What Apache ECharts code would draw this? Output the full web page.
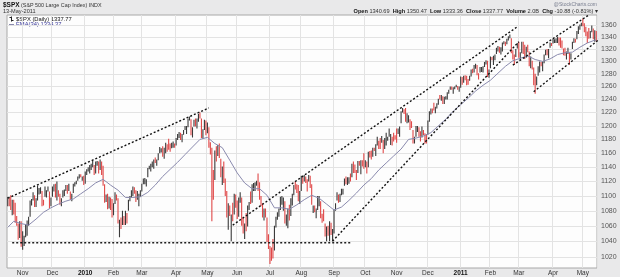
<!DOCTYPE html>
<html>
<head>
<meta charset="utf-8">
<script src="https://cdn.jsdelivr.net/npm/echarts/dist/echarts.min.js"></script>
<style>
html,body{margin:0;padding:0;background:#e9e9ea;}
#c{width:620px;height:277px;}
</style>
</head>
<body>
<div id="c"></div>
<script>
// ---- trading days (categories) ----
const tradingDays = [
 ['2009-10', [19,20,21,22,23,26,27,28,29,30]],
 ['2009-11', [2,3,4,5,6,9,10,11,12,13,16,17,18,19,20,23,24,25,27,30]],
 ['2009-12', [1,2,3,4,7,8,9,10,11,14,15,16,17,18,21,22,23,24,28,29,30,31]],
 ['2010-01', [4,5,6,7,8,11,12,13,14,15,19,20,21,22,25,26,27,28,29]],
 ['2010-02', [1,2,3,4,5,8,9,10,11,12,16,17,18,19,22,23,24,25,26]],
 ['2010-03', [1,2,3,4,5,8,9,10,11,12,15,16,17,18,19,22,23,24,25,26,29,30,31]],
 ['2010-04', [1,5,6,7,8,9,12,13,14,15,16,19,20,21,22,23,26,27,28,29,30]],
 ['2010-05', [3,4,5,6,7,10,11,12,13,14,17,18,19,20,21,24,25,26,27,28]],
 ['2010-06', [1,2,3,4,7,8,9,10,11,14,15,16,17,18,21,22,23,24,25,28,29,30]],
 ['2010-07', [1,2,6,7,8,9,12,13,14,15,16,19,20,21,22,23,26,27,28,29,30]],
 ['2010-08', [2,3,4,5,6,9,10,11,12,13,16,17,18,19,20,23,24,25,26,27,30,31]],
 ['2010-09', [1,2,3,7,8,9,10,13,14,15,16,17,20,21,22,23,24,27,28,29,30]],
 ['2010-10', [1,4,5,6,7,8,11,12,13,14,15,18,19,20,21,22,25,26,27,28,29]],
 ['2010-11', [1,2,3,4,5,8,9,10,11,12,15,16,17,18,19,22,23,24,26,29,30]],
 ['2010-12', [1,2,3,6,7,8,9,10,13,14,15,16,17,20,21,22,23,27,28,29,30,31]],
 ['2011-01', [3,4,5,6,7,10,11,12,13,14,18,19,20,21,24,25,26,27,28,31]],
 ['2011-02', [1,2,3,4,7,8,9,10,11,14,15,16,17,18,22,23,24,25,28]],
 ['2011-03', [1,2,3,4,7,8,9,10,11,14,15,16,17,18,21,22,23,24,25,28,29,30,31]],
 ['2011-04', [1,4,5,6,7,8,11,12,13,14,15,18,19,20,21,25,26,27,28,29]],
 ['2011-05', [2,3,4,5,6,9,10,11,12,13]]
];
// month tick labels (first trading day of each month after the first)
const monthLabels = ['Nov','Dec','2010','Feb','Mar','Apr','May','Jun','Jul','Aug','Sep','Oct','Nov','Dec','2011','Feb','Mar','Apr','May'];
// price tick labels
const yTicks = [1020,1040,1060,1080,1100,1120,1140,1160,1180,1200,1220,1240,1260,1280,1300,1320,1340,1360];

// ---- daily bars [open, high, low, close] ----
const ohlc2009 = [
[1088,1099,1086,1098],[1098,1098,1086,1091],[1091,1101,1081,1081],[1080,1095,1074,1093],[1093,1095,1075,1080],
[1080,1091,1064,1067],[1067,1073,1060,1063],[1061,1063,1042,1043],[1044,1066,1044,1066],[1065,1066,1033,1036],
[1036,1053,1029,1043],[1040,1047,1034,1045],[1047,1062,1045,1047],[1047,1067,1047,1067],[1064,1072,1060,1069],
[1072,1094,1072,1093],[1092,1096,1087,1093],[1094,1105,1094,1099],[1098,1101,1085,1087],[1088,1097,1085,1093],
[1094,1114,1094,1109],[1108,1111,1102,1110],[1110,1112,1103,1110],[1106,1107,1086,1095],[1094,1095,1087,1091],
[1099,1113,1099,1106],[1106,1108,1098,1106],[1107,1113,1106,1111],[1105,1106,1083,1091],[1092,1098,1086,1096],
[1099,1113,1099,1109],[1109,1116,1106,1109],[1111,1117,1098,1100],[1100,1120,1094,1106],[1106,1108,1099,1103],
[1103,1103,1088,1092],[1092,1097,1086,1096],[1098,1108,1098,1102],[1104,1109,1100,1106],[1108,1115,1107,1114],
[1114,1115,1103,1108],[1109,1117,1107,1109],[1106,1106,1095,1096],[1097,1103,1093,1102],[1104,1117,1104,1114],
[1115,1119,1113,1118],[1118,1121,1116,1121],[1121,1127,1121,1126],[1127,1130,1124,1128],[1128,1130,1126,1126],
[1125,1127,1121,1126],[1126,1128,1115,1115]
];
const ohlc2010 = [
[1117,1134,1117,1133],[1133,1137,1129,1137],[1136,1140,1134,1137],[1136,1143,1131,1142],[1141,1145,1136,1145],
[1146,1150,1140,1147],[1143,1143,1129,1136],[1137,1148,1131,1146],[1146,1149,1142,1148],[1148,1148,1131,1136],
[1136,1151,1136,1150],[1148,1148,1129,1138],[1138,1142,1114,1116],[1116,1116,1091,1092],[1092,1102,1092,1097],
[1095,1103,1082,1092],[1091,1099,1083,1098],[1097,1098,1081,1085],[1087,1096,1071,1074],
[1074,1090,1074,1089],[1090,1105,1089,1103],[1101,1102,1094,1097],[1097,1097,1063,1063],[1065,1068,1045,1066],
[1066,1071,1056,1057],[1061,1080,1061,1071],[1069,1073,1061,1068],[1067,1080,1061,1078],[1076,1077,1063,1076],
[1080,1095,1080,1095],[1096,1100,1093,1100],[1099,1108,1098,1107],[1105,1113,1100,1109],[1110,1112,1103,1108],
[1107,1108,1092,1095],[1095,1107,1095,1105],[1101,1103,1086,1103],[1103,1108,1099,1104],
[1106,1117,1106,1116],[1117,1124,1116,1118],[1119,1125,1116,1119],[1119,1123,1113,1123],[1126,1139,1126,1139],
[1139,1142,1137,1139],[1137,1145,1134,1140],[1141,1148,1140,1146],[1143,1151,1138,1150],[1151,1154,1146,1150],
[1148,1151,1142,1151],[1151,1160,1150,1159],[1160,1169,1160,1166],[1166,1167,1161,1166],[1166,1170,1155,1160],
[1155,1168,1152,1166],[1167,1175,1160,1174],[1172,1173,1162,1168],[1170,1181,1165,1166],[1168,1174,1162,1167],
[1168,1175,1167,1173],[1173,1177,1168,1173],[1171,1174,1168,1169],
[1172,1182,1171,1178],[1179,1188,1179,1187],[1186,1191,1182,1189],[1188,1190,1179,1182],[1181,1188,1176,1186],
[1187,1194,1187,1194],[1194,1200,1194,1196],[1195,1200,1188,1197],[1198,1211,1198,1211],[1211,1214,1208,1212],
[1210,1210,1186,1192],[1192,1198,1183,1198],[1199,1209,1199,1207],[1207,1211,1199,1206],[1203,1211,1196,1209],
[1208,1218,1206,1217],[1217,1220,1211,1212],[1209,1211,1182,1184],[1186,1195,1181,1191],[1194,1209,1194,1207],
[1206,1208,1186,1187],
[1189,1205,1189,1202],[1198,1198,1168,1174],[1170,1176,1158,1166],[1165,1168,1066,1128],[1127,1136,1095,1111],
[1122,1164,1122,1160],[1156,1170,1148,1156],[1156,1172,1156,1172],[1171,1174,1153,1157],[1152,1152,1126,1136],
[1137,1141,1115,1137],[1139,1148,1118,1121],[1119,1124,1100,1115],[1107,1107,1071,1072],[1067,1090,1055,1088],
[1084,1087,1073,1074],[1068,1075,1040,1074],[1075,1091,1066,1068],[1075,1103,1075,1103],[1102,1102,1084,1089],
[1088,1094,1069,1071],[1073,1098,1072,1098],[1099,1105,1091,1103],[1098,1098,1060,1065],[1066,1071,1050,1050],
[1051,1063,1043,1062],[1063,1077,1053,1056],[1059,1087,1059,1087],[1083,1092,1081,1092],[1096,1106,1089,1090],
[1091,1116,1091,1115],[1113,1118,1107,1115],[1116,1119,1107,1116],[1117,1121,1114,1118],[1122,1131,1107,1113],
[1113,1119,1095,1095],[1096,1100,1086,1092],[1090,1090,1071,1074],[1075,1083,1067,1077],[1077,1083,1071,1075],
[1071,1071,1039,1041],[1041,1049,1030,1031],
[1031,1034,1011,1027],[1028,1032,1015,1023],[1029,1043,1018,1028],[1029,1060,1028,1060],[1062,1072,1058,1070],
[1070,1078,1068,1078],[1078,1083,1072,1079],[1081,1099,1081,1095],[1095,1100,1088,1095],[1094,1098,1080,1096],
[1093,1093,1063,1065],[1066,1075,1060,1071],[1065,1083,1057,1083],[1084,1088,1067,1070],[1073,1097,1073,1094],
[1093,1103,1087,1103],[1103,1115,1101,1115],[1118,1120,1109,1114],[1113,1116,1104,1106],[1108,1115,1093,1102],
[1098,1107,1089,1102],
[1107,1128,1107,1126],[1125,1126,1117,1120],[1121,1129,1120,1127],[1126,1127,1118,1126],[1122,1123,1106,1122],
[1122,1129,1120,1128],[1122,1128,1111,1121],[1116,1116,1088,1089],[1081,1087,1077,1084],[1082,1087,1078,1079],
[1077,1083,1070,1079],[1081,1100,1081,1093],[1093,1100,1086,1094],[1092,1093,1070,1076],[1075,1076,1064,1072],
[1073,1082,1066,1067],[1063,1063,1046,1052],[1048,1059,1040,1055],[1057,1060,1047,1047],[1049,1066,1040,1065],
[1063,1064,1048,1049],[1047,1056,1040,1049],
[1050,1082,1050,1080],[1081,1090,1080,1090],[1094,1105,1094,1105],[1102,1102,1091,1092],[1093,1103,1092,1099],
[1102,1110,1101,1104],[1105,1110,1102,1110],[1114,1124,1114,1122],[1121,1127,1116,1121],[1120,1126,1115,1125],
[1124,1126,1117,1125],[1127,1131,1120,1126],[1127,1145,1126,1143],[1143,1148,1132,1140],[1140,1144,1132,1134],
[1131,1136,1122,1125],[1132,1149,1132,1149],[1149,1149,1142,1142],[1143,1150,1130,1148],[1147,1150,1141,1145],
[1146,1160,1138,1141],
[1144,1150,1140,1146],[1144,1148,1131,1137],[1140,1162,1140,1161],[1160,1163,1154,1160],[1161,1164,1151,1158],
[1158,1168,1155,1165],[1166,1168,1163,1165],[1165,1173,1156,1170],[1171,1184,1171,1178],[1177,1178,1166,1174],
[1180,1182,1166,1176],[1177,1185,1175,1185],[1179,1179,1160,1166],[1167,1182,1166,1178],[1179,1190,1171,1180],
[1180,1184,1178,1183],[1185,1196,1184,1186],[1184,1188,1172,1186],[1184,1184,1171,1182],[1185,1190,1177,1184],
[1183,1186,1180,1183],
[1186,1196,1175,1184],[1188,1196,1188,1194],[1194,1199,1184,1198],[1204,1222,1204,1221],[1221,1227,1220,1226],
[1224,1225,1218,1223],[1223,1227,1206,1213],[1214,1219,1204,1219],[1213,1216,1205,1214],[1209,1210,1194,1199],
[1201,1207,1197,1198],[1194,1194,1174,1178],[1178,1184,1174,1179],[1184,1200,1184,1197],[1197,1200,1191,1200],
[1198,1198,1184,1198],[1192,1192,1177,1181],[1183,1199,1183,1198],[1194,1194,1186,1189],[1189,1189,1174,1188],
[1182,1188,1174,1181],
[1187,1208,1187,1206],[1207,1222,1206,1222],[1219,1226,1217,1225],[1224,1226,1219,1223],[1229,1235,1223,1224],
[1226,1229,1219,1228],[1231,1234,1226,1233],[1233,1241,1232,1240],[1242,1247,1240,1240],[1241,1247,1238,1242],
[1241,1245,1233,1235],[1236,1244,1233,1243],[1243,1245,1240,1244],[1245,1251,1240,1247],[1249,1255,1249,1255],
[1255,1260,1255,1259],[1258,1260,1255,1257],[1255,1259,1249,1258],[1259,1260,1256,1259],[1259,1263,1259,1260],
[1259,1261,1255,1258],[1257,1260,1252,1258]
];
const ohlc2011 = [
[1258,1276,1258,1272],[1273,1275,1263,1270],[1269,1277,1266,1277],[1277,1278,1270,1274],[1275,1277,1262,1272],
[1270,1272,1263,1270],[1273,1277,1269,1274],[1276,1287,1276,1286],[1286,1288,1281,1284],[1283,1294,1282,1293],
[1293,1296,1288,1295],[1294,1294,1278,1282],[1280,1281,1271,1280],[1283,1291,1282,1283],[1283,1291,1283,1291],
[1289,1292,1282,1291],[1292,1299,1291,1297],[1297,1302,1295,1300],[1300,1301,1275,1276],[1277,1287,1274,1286],
[1289,1308,1289,1308],[1305,1307,1302,1304],[1302,1309,1294,1307],[1307,1311,1302,1311],[1312,1322,1312,1319],
[1319,1325,1316,1325],[1323,1324,1314,1321],[1318,1323,1311,1322],[1318,1331,1316,1329],[1329,1333,1328,1332],
[1331,1332,1325,1328],[1329,1337,1328,1336],[1335,1341,1334,1340],[1341,1344,1338,1343],[1338,1338,1313,1315],
[1315,1318,1303,1307],[1307,1311,1294,1306],[1307,1320,1307,1320],[1322,1330,1321,1327],
[1328,1332,1306,1306],[1305,1315,1302,1308],[1313,1332,1313,1331],[1330,1332,1312,1321],[1322,1327,1304,1310],
[1311,1324,1306,1322],[1320,1327,1315,1320],[1316,1316,1292,1295],[1294,1308,1289,1304],[1301,1301,1287,1296],
[1290,1290,1262,1282],[1280,1280,1249,1257],[1262,1276,1262,1274],[1277,1292,1277,1279],[1282,1300,1282,1298],
[1298,1299,1292,1294],[1293,1300,1284,1298],[1300,1311,1297,1310],[1312,1319,1310,1314],[1315,1320,1310,1310],
[1309,1320,1305,1319],[1322,1331,1322,1328],[1327,1330,1325,1326],
[1330,1337,1329,1332],[1333,1336,1330,1333],[1332,1338,1330,1333],[1336,1340,1330,1336],[1335,1339,1326,1334],
[1337,1339,1322,1328],[1330,1334,1321,1324],[1321,1321,1310,1314],[1317,1322,1309,1314],[1311,1316,1303,1315],
[1315,1322,1312,1320],[1314,1314,1294,1305],[1306,1313,1303,1313],[1320,1332,1320,1330],[1334,1338,1330,1337],
[1337,1337,1331,1335],[1336,1350,1336,1347],[1348,1358,1345,1356],[1353,1361,1352,1360],[1360,1364,1358,1364],
[1365,1371,1358,1361],[1359,1363,1348,1357],[1356,1357,1341,1347],[1345,1349,1330,1335],[1341,1355,1337,1340],
[1340,1350,1338,1346],[1348,1359,1348,1357],[1354,1354,1336,1342],[1339,1351,1332,1349],[1341,1350,1333,1338]
];

// ---- EMA(34) read at weekly points ----
const ema34 = [
['2009-10-19',1058],['2009-10-23',1066],['2009-10-30',1063],['2009-11-06',1061],['2009-11-13',1069],
['2009-11-20',1078],['2009-11-30',1084],['2009-12-07',1089],['2009-12-14',1093],['2009-12-21',1096],
['2009-12-29',1103],['2010-01-06',1110],['2010-01-13',1118],['2010-01-21',1123],['2010-01-28',1115],
['2010-02-04',1108],['2010-02-11',1098],['2010-02-19',1098],['2010-02-26',1099],['2010-03-05',1105],
['2010-03-12',1115],['2010-03-19',1127],['2010-03-26',1137],['2010-04-05',1147],['2010-04-12',1158],
['2010-04-19',1169],['2010-04-26',1180],['2010-05-03',1183],['2010-05-10',1174],['2010-05-17',1168],
['2010-05-24',1150],['2010-06-01',1132],['2010-06-08',1118],['2010-06-15',1110],['2010-06-22',1110],
['2010-06-29',1101],['2010-07-07',1084],['2010-07-14',1084],['2010-07-21',1082],['2010-07-28',1088],
['2010-08-04',1095],['2010-08-11',1101],['2010-08-18',1097],['2010-08-25',1089],['2010-09-01',1081],
['2010-09-09',1085],['2010-09-16',1094],['2010-09-23',1104],['2010-09-30',1115],['2010-10-07',1124],
['2010-10-14',1136],['2010-10-21',1146],['2010-10-28',1156],['2010-11-04',1166],['2010-11-11',1180],
['2010-11-18',1182],['2010-11-26',1185],['2010-12-03',1190],['2010-12-10',1200],['2010-12-17',1210],
['2010-12-27',1222],['2011-01-03',1232],['2011-01-10',1242],['2011-01-18',1253],['2011-01-25',1262],
['2011-02-01',1270],['2011-02-08',1281],['2011-02-15',1292],['2011-02-23',1301],['2011-03-02',1305],
['2011-03-09',1309],['2011-03-16',1303],['2011-03-23',1300],['2011-03-30',1304],['2011-04-06',1311],
['2011-04-13',1314],['2011-04-20',1315],['2011-04-28',1323],['2011-05-05',1330],['2011-05-12',1334.7],
['2011-05-13',1334.37]
];

// ---- hand-drawn trendlines: [[barIndex, price], [barIndex, price]] ----
const trendlines = [
 [[0, 1097], [135, 1227]],
 [[3, 1038], [230, 1038]],
 [[151, 1061], [342, 1357]],
 [[218, 1040], [343, 1332]],
 [[339, 1294], [390, 1377]],
 [[353, 1252], [399, 1340]]
];

// ---- build ----
const dates = [];
tradingDays.forEach(([ym, days]) => days.forEach(d => dates.push(ym + '-' + String(d).padStart(2, '0'))));
const bars = ohlc2009.concat(ohlc2010, ohlc2011);
const candles = bars.map(([o, h, l, c]) => [o, c, l, h]);
const monthStart = {};
let pos = 0;
tradingDays.forEach(([ym, days], k) => {
  if (k > 0) monthStart[pos] = monthLabels[k - 1];
  pos += days.length;
});
const isStart = (i) => monthStart[i] !== undefined;

const FONT = 'Liberation Sans';
const EMA_COLOR = '#8a8aae';

const series = [
  {
    type: 'line', data: [], silent: true, z: 1,
    markLine: {
      silent: true, symbol: 'none', animation: false, z: 1,
      lineStyle: { color: '#e3e3e3', width: 1, type: 'solid' },
      label: { show: true, position: 'end', distance: 4, formatter: p => p.value,
               color: '#555', fontSize: 7, fontFamily: FONT },
      emphasis: { disabled: true },
      data: yTicks.map(v => ({ yAxis: v }))
    }
  },
  {
    type: 'candlestick', data: candles, large: true, largeThreshold: 50, z: 3,
    itemStyle: { color: '#3a3a3a', color0: '#e04848', borderColor: '#3a3a3a',
                 borderColor0: '#e04848', borderWidth: 1.1 }
  },
  {
    type: 'line', data: ema34, showSymbol: false, symbol: 'none', z: 4,
    lineStyle: { color: EMA_COLOR, width: 1 }
  }
];
trendlines.forEach(seg => series.push({
  type: 'line', data: seg, showSymbol: false, symbol: 'none', clip: false, z: 5, silent: true,
  lineStyle: { color: '#111', width: 1.4, type: [2, 2] }
}));

const chart = echarts.init(document.getElementById('c'), null, { renderer: 'canvas' });
chart.setOption({
  animation: false,
  backgroundColor: '#e9e9ea',
  grid: { left: 7, right: 23, top: 15, bottom: 9, containLabel: false, outerBoundsMode: 'none',
          show: true, backgroundColor: '#fdfdfd', borderColor: '#a8a8a8', borderWidth: 1 },
  xAxis: {
    type: 'category', data: dates, boundaryGap: true,
    axisLine: { show: false }, axisTick: { show: false },
    axisLabel: {
      interval: (i) => isStart(i),
      formatter: (v, i) => { const t = monthStart[i]; return /^\d{4}$/.test(t) ? '{b|' + t + '}' : t; },
      fontSize: 6.5, color: '#333', margin: 2, fontFamily: FONT,
      rich: { b: { fontWeight: 'bold', fontSize: 6.5, color: '#111', fontFamily: FONT } }
    },
    splitLine: { show: true, interval: (i) => isStart(i), lineStyle: { color: '#e3e3e3', width: 1 } }
  },
  yAxis: {
    type: 'log', min: 1006, max: 1377, position: 'right',
    axisLine: { show: false }, axisTick: { show: false },
    axisLabel: { show: false }, splitLine: { show: false }
  },
  series: series,
  graphic: [
    { type: 'text', x: 3, y: 5, style: { text: '$SPX', fill: '#111', fontSize: 6.5, fontWeight: 'bold', fontFamily: FONT, verticalAlign: 'middle' } },
    { type: 'text', x: 21, y: 5.3, style: { text: '(S&P 500 Large Cap Index) INDX', fill: '#333', fontSize: 5.4, fontFamily: FONT, verticalAlign: 'middle' } },
    { type: 'text', x: 3, y: 11.3, style: { text: '13-May-2011', fill: '#333', fontSize: 5.6, fontFamily: FONT, verticalAlign: 'middle' } },
    { type: 'text', x: 597, y: 5, style: { text: '@StockCharts.com', fill: '#7a7f90', fontSize: 5, fontFamily: FONT, align: 'right', verticalAlign: 'middle' } },
    { type: 'text', x: 598, y: 11.8, style: {
        text: '{b|Open} 1340.69  {b|High} 1350.47  {b|Low} 1333.36  {b|Close} 1337.77  {b|Volume} 2.0B  {b|Chg} -10.88 (-0.81%) \u25be',
        fill: '#333', fontSize: 5.6, fontFamily: FONT, align: 'right', verticalAlign: 'middle',
        rich: { b: { fontWeight: 'bold', fill: '#111', fontSize: 5.6, fontFamily: FONT } } } },
    // legend inside plot
    { type: 'line', shape: { x1: 11.5, y1: 16.5, x2: 11.5, y2: 21.5 }, style: { stroke: '#222', lineWidth: 1 } },
    { type: 'line', shape: { x1: 9.5, y1: 17.5, x2: 11.5, y2: 17.5 }, style: { stroke: '#222', lineWidth: 1 } },
    { type: 'line', shape: { x1: 11.5, y1: 20.5, x2: 13.5, y2: 20.5 }, style: { stroke: '#222', lineWidth: 1 } },
    { type: 'text', x: 16, y: 19.2, style: { text: '$SPX (Daily) 1337.77', fill: '#111', fontSize: 5.8, fontFamily: FONT, verticalAlign: 'middle' } },
    { type: 'line', shape: { x1: 9, y1: 24.5, x2: 14, y2: 24.5 }, style: { stroke: EMA_COLOR, lineWidth: 1 } },
    { type: 'text', x: 16, y: 24.6, style: { text: 'EMA(34) 1334.37', fill: '#3b3b9a', fontSize: 5.8, fontFamily: FONT, verticalAlign: 'middle' } }
  ]
});
</script>
</body>
</html>
